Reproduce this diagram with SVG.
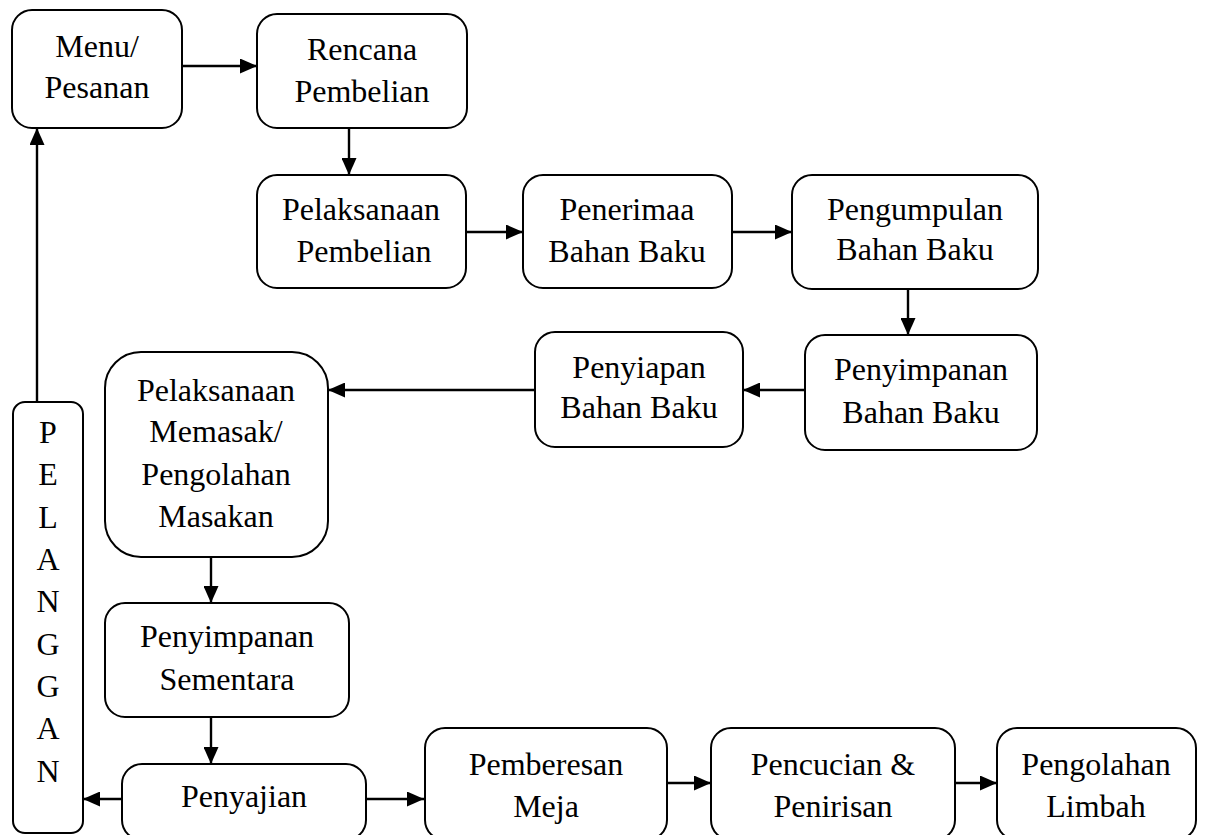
<svg xmlns="http://www.w3.org/2000/svg" width="1206" height="835" viewBox="0 0 1206 835">
<style>
.box{fill:#fff;stroke:#000;stroke-width:2}
.t{font-family:'Liberation Serif','Times New Roman',Times,'DejaVu Serif',serif;font-size:32px;fill:#000;text-anchor:middle}
.c{fill:none;stroke:#000;stroke-width:2.4}
</style>
<defs>
<marker id="ah" markerUnits="userSpaceOnUse" markerWidth="17" markerHeight="15" refX="17" refY="7.5" orient="auto">
<path d="M0,0 L17,7.5 L0,15 z" fill="#000"/>
</marker>
</defs>
<rect width="1206" height="835" fill="#fff"/>
<g id="connectors">
<line class="c" x1="182" y1="66" x2="257" y2="66" marker-end="url(#ah)"/>
<line class="c" x1="349" y1="128" x2="349" y2="175" marker-end="url(#ah)"/>
<line class="c" x1="466" y1="232" x2="523" y2="232" marker-end="url(#ah)"/>
<line class="c" x1="732" y1="232" x2="792" y2="232" marker-end="url(#ah)"/>
<line class="c" x1="908" y1="289" x2="908" y2="335" marker-end="url(#ah)"/>
<line class="c" x1="805" y1="390" x2="743" y2="390" marker-end="url(#ah)"/>
<line class="c" x1="535" y1="390" x2="328" y2="390" marker-end="url(#ah)"/>
<line class="c" x1="211" y1="557" x2="211" y2="603" marker-end="url(#ah)"/>
<line class="c" x1="211" y1="717" x2="211" y2="764" marker-end="url(#ah)"/>
<line class="c" x1="122" y1="799" x2="83" y2="799" marker-end="url(#ah)"/>
<line class="c" x1="366" y1="799" x2="424" y2="799" marker-end="url(#ah)"/>
<line class="c" x1="667" y1="783" x2="711" y2="783" marker-end="url(#ah)"/>
<line class="c" x1="955" y1="783" x2="997" y2="783" marker-end="url(#ah)"/>
<line class="c" x1="37" y1="402" x2="37" y2="128" marker-end="url(#ah)"/>
</g>
<g id="menu"><rect class="box" x="12" y="10" width="170" height="118" rx="20"/>
<text class="t" x="97" y="57">Menu/</text><text class="t" x="97" y="98">Pesanan</text></g>
<g id="rencana"><rect class="box" x="257" y="14" width="210" height="114" rx="20"/>
<text class="t" x="362" y="60">Rencana</text><text class="t" x="362" y="102">Pembelian</text></g>
<g id="pelaksanaan-pembelian"><rect class="box" x="257" y="175" width="209" height="113" rx="20"/>
<text class="t" x="361" y="220">Pelaksanaan</text><text class="t" x="364" y="262">Pembelian</text></g>
<g id="penerimaan"><rect class="box" x="523" y="175" width="209" height="113" rx="20"/>
<text class="t" x="627" y="220">Penerimaa</text><text class="t" x="627" y="262">Bahan Baku</text></g>
<g id="pengumpulan"><rect class="box" x="792" y="175" width="246" height="114" rx="20"/>
<text class="t" x="915" y="220">Pengumpulan</text><text class="t" x="915" y="260">Bahan Baku</text></g>
<g id="penyimpanan-bb"><rect class="box" x="805" y="335" width="232" height="115" rx="20"/>
<text class="t" x="921" y="380">Penyimpanan</text><text class="t" x="921" y="423">Bahan Baku</text></g>
<g id="penyiapan"><rect class="box" x="535" y="332" width="208" height="115" rx="20"/>
<text class="t" x="639" y="378">Penyiapan</text><text class="t" x="639" y="418">Bahan Baku</text></g>
<g id="memasak"><rect class="box" x="105" y="352" width="223" height="205" rx="36"/>
<text class="t" x="216" y="401">Pelaksanaan</text><text class="t" x="216" y="442">Memasak/</text>
<text class="t" x="216" y="485">Pengolahan</text><text class="t" x="216" y="527">Masakan</text></g>
<g id="sementara"><rect class="box" x="105" y="603" width="244" height="114" rx="20"/>
<text class="t" x="227" y="647">Penyimpanan</text><text class="t" x="227" y="690">Sementara</text></g>
<g id="penyajian"><rect class="box" x="122" y="764" width="244" height="76" rx="20"/>
<text class="t" x="244" y="807">Penyajian</text></g>
<g id="pemberesan"><rect class="box" x="425" y="728" width="242" height="112" rx="20"/>
<text class="t" x="546" y="775">Pemberesan</text><text class="t" x="546" y="817">Meja</text></g>
<g id="pencucian"><rect class="box" x="711" y="728" width="244" height="112" rx="20"/>
<text class="t" x="833" y="775">Pencucian &amp;</text><text class="t" x="833" y="817">Penirisan</text></g>
<g id="limbah"><rect class="box" x="997" y="728" width="199" height="112" rx="20"/>
<text class="t" x="1096" y="775">Pengolahan</text><text class="t" x="1096" y="817">Limbah</text></g>
<g id="pelanggan"><rect class="box" x="13" y="402" width="70" height="431" rx="12"/>
<text class="t" x="48" y="443">P</text><text class="t" x="48" y="485">E</text><text class="t" x="48" y="528">L</text>
<text class="t" x="48" y="570">A</text><text class="t" x="48" y="612">N</text><text class="t" x="48" y="655">G</text>
<text class="t" x="48" y="697">G</text><text class="t" x="48" y="739">A</text><text class="t" x="48" y="782">N</text></g>
</svg>
